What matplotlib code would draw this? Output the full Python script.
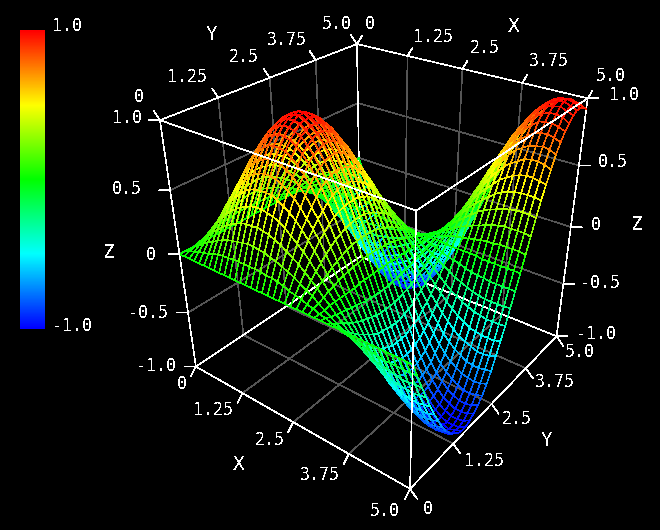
import numpy as np
import matplotlib
matplotlib.use("Agg")
import matplotlib.pyplot as plt
from matplotlib.colors import LinearSegmentedColormap
from mpl_toolkits.mplot3d import proj3d
from mpl_toolkits.mplot3d.art3d import Line3DCollection

plt.rcParams["font.family"] = "DejaVu Sans Mono"
plt.rcParams["font.size"] = 12
plt.rcParams["lines.antialiased"] = False
plt.rcParams["patch.antialiased"] = False
plt.rcParams["text.antialiased"] = False

x_ticks = [0, 1.25, 2.5, 3.75, 5.0]
y_ticks = [0, 1.25, 2.5, 3.75, 5.0]
z_ticks = [-1.0, -0.5, 0, 0.5, 1.0]
x_labels = ["0", "1.25", "2.5", "3.75", "5.0"]
y_labels = ["0", "1.25", "2.5", "3.75", "5.0"]
z_labels = ["-1.0", "-0.5", "0", "0.5", "1.0"]
grid_step = 0.125

z_hundredths = [
    [0] * 41,
    [0,2,3,5,6,7,9,10,11,11,12,12,12,12,12,12,11,11,10,9,7,6,5,3,2,0,-1,-3,-4,-6,-7,-8,-9,-10,-11,-12,-12,-12,-12,-12,-12],
    [0,3,6,9,12,14,17,19,21,22,23,24,25,25,24,24,22,21,19,17,15,12,9,7,3,0,-3,-6,-9,-11,-14,-17,-19,-21,-22,-23,-24,-25,-25,-24,-24],
    [0,5,9,13,18,21,25,28,31,33,35,36,36,37,36,35,33,31,28,25,22,18,14,10,5,1,-4,-8,-13,-17,-21,-25,-28,-30,-33,-35,-36,-36,-37,-36,-35],
    [0,6,12,18,23,28,33,37,40,43,45,47,48,48,47,46,44,41,37,33,29,24,18,13,7,1,-5,-11,-17,-22,-27,-32,-36,-40,-43,-45,-47,-48,-48,-47,-46],
    [0,7,14,21,28,34,40,45,49,53,56,57,58,58,58,56,53,50,46,41,35,29,22,15,8,1,-6,-14,-21,-27,-33,-39,-44,-49,-52,-55,-57,-58,-58,-58,-56],
    [0,9,17,25,33,40,47,52,57,62,65,67,68,68,67,65,62,58,53,47,41,34,26,18,10,1,-7,-16,-24,-32,-39,-46,-52,-57,-61,-64,-67,-68,-68,-67,-65],
    [0,10,19,28,37,45,52,59,65,69,73,75,77,77,76,73,70,65,60,53,46,38,29,20,11,1,-8,-18,-27,-36,-44,-51,-58,-64,-69,-72,-75,-76,-77,-76,-74],
    [0,11,21,31,40,49,57,65,71,76,80,83,84,84,83,80,76,71,65,58,50,42,32,22,12,1,-9,-19,-30,-39,-48,-56,-64,-70,-75,-79,-82,-84,-84,-83,-81],
    [0,11,22,33,43,53,62,69,76,81,86,88,90,90,89,86,82,77,70,63,54,45,34,24,13,2,-10,-21,-32,-42,-52,-60,-68,-75,-81,-85,-88,-90,-90,-89,-87],
    [0,12,23,35,45,56,65,73,80,86,90,93,95,95,93,91,86,81,74,66,57,47,36,25,13,2,-10,-22,-33,-44,-54,-64,-72,-79,-85,-89,-93,-95,-95,-94,-91],
    [0,12,24,36,47,57,67,75,83,88,93,96,98,98,97,94,89,83,76,68,59,48,37,26,14,2,-11,-23,-34,-46,-56,-66,-74,-82,-88,-93,-96,-98,-98,-97,-94],
    [0,12,25,36,48,58,68,77,84,90,95,98,99,100,98,95,91,85,78,69,60,49,38,26,14,2,-11,-23,-35,-46,-57,-67,-75,-83,-89,-94,-98,-99,-100,-98,-96],
    [0,12,25,37,48,58,68,77,84,90,95,98,100,100,98,95,91,85,78,69,60,49,38,26,14,2,-11,-23,-35,-46,-57,-67,-76,-83,-89,-94,-98,-100,-100,-99,-96],
    [0,12,24,36,47,58,67,76,83,89,93,97,98,98,97,94,89,84,77,68,59,49,38,26,14,2,-11,-23,-35,-46,-56,-66,-74,-82,-88,-93,-96,-98,-98,-97,-94],
    [0,12,24,35,46,56,65,73,80,86,91,94,95,95,94,91,87,81,74,66,57,47,36,25,13,2,-10,-22,-33,-44,-55,-64,-72,-79,-85,-90,-93,-95,-95,-94,-91],
    [0,11,22,33,44,53,62,70,76,82,86,89,91,91,89,87,83,77,71,63,54,45,35,24,13,2,-10,-21,-32,-42,-52,-61,-69,-76,-81,-86,-89,-91,-91,-90,-87],
    [0,11,21,31,41,50,58,65,71,77,81,83,85,85,84,81,77,72,66,59,51,42,32,22,12,1,-9,-20,-30,-40,-49,-57,-64,-71,-76,-80,-83,-85,-85,-84,-82],
    [0,10,19,28,37,46,53,60,65,70,74,76,78,78,77,74,71,66,61,54,47,38,30,21,11,1,-8,-18,-27,-36,-45,-52,-59,-65,-70,-73,-76,-77,-78,-77,-75],
    [0,9,17,25,33,41,47,53,58,63,66,68,69,69,68,66,63,59,54,48,42,34,27,18,10,1,-7,-16,-24,-32,-40,-46,-53,-58,-62,-65,-68,-69,-69,-68,-67],
    [0,7,15,22,29,35,41,46,50,54,57,59,60,60,59,57,54,51,47,42,36,30,23,16,8,1,-6,-14,-21,-28,-34,-40,-45,-50,-54,-56,-58,-60,-60,-59,-57],
    [0,6,12,18,24,29,34,38,42,45,47,48,49,49,49,47,45,42,38,34,30,24,19,13,7,1,-5,-11,-17,-23,-28,-33,-37,-41,-44,-47,-48,-49,-49,-49,-47],
    [0,5,9,14,18,22,26,29,32,34,36,37,38,38,38,36,35,32,30,27,23,19,15,10,5,1,-4,-9,-13,-18,-22,-26,-29,-32,-34,-36,-37,-38,-38,-38,-37],
    [0,3,7,10,13,15,18,20,22,24,25,26,26,26,26,25,24,22,21,18,16,13,10,7,4,0,-3,-6,-9,-12,-15,-18,-20,-22,-24,-25,-26,-26,-26,-26,-25],
    [0,2,3,5,7,8,10,11,12,13,13,14,14,14,14,13,13,12,11,10,8,7,5,4,2,0,-2,-3,-5,-7,-8,-9,-11,-12,-13,-13,-14,-14,-14,-14,-14],
    [0,0,0,1,1,1,1,1,1,2,2,2,2,2,2,2,2,1,1,1,1,1,1,0,0,0,0,0,-1,-1,-1,-1,-1,-1,-2,-2,-2,-2,-2,-2,-2],
    [0,-1,-3,-4,-5,-6,-7,-8,-9,-10,-10,-11,-11,-11,-11,-10,-10,-9,-8,-7,-6,-5,-4,-3,-2,0,1,2,4,5,6,7,8,9,10,10,11,11,11,11,10],
    [0,-3,-6,-8,-11,-14,-16,-18,-19,-21,-22,-23,-23,-23,-23,-22,-21,-20,-18,-16,-14,-11,-9,-6,-3,0,2,5,8,11,13,15,17,19,21,22,23,23,23,23,22],
    [0,-4,-9,-13,-17,-21,-24,-27,-30,-32,-33,-34,-35,-35,-35,-33,-32,-30,-27,-24,-21,-17,-13,-9,-5,-1,4,8,12,16,20,24,27,29,31,33,34,35,35,35,34],
    [0,-6,-11,-17,-22,-27,-32,-36,-39,-42,-44,-46,-46,-46,-46,-44,-42,-40,-36,-32,-28,-23,-18,-12,-7,-1,5,11,16,22,27,31,35,39,42,44,45,46,46,46,45],
    [0,-7,-14,-21,-27,-33,-39,-44,-48,-52,-54,-56,-57,-57,-56,-55,-52,-49,-45,-40,-34,-28,-22,-15,-8,-1,6,13,20,27,33,38,43,48,51,54,56,57,57,56,55],
    [0,-8,-17,-25,-32,-39,-46,-51,-56,-60,-64,-66,-67,-67,-66,-64,-61,-57,-52,-46,-40,-33,-26,-18,-9,-1,7,15,24,31,38,45,51,56,60,63,66,67,67,66,64],
    [0,-9,-19,-28,-36,-44,-52,-58,-64,-68,-72,-74,-75,-76,-74,-72,-69,-64,-59,-53,-45,-37,-29,-20,-11,-1,8,17,27,35,43,51,57,63,68,71,74,75,76,75,73],
    [0,-10,-21,-30,-40,-49,-57,-64,-70,-75,-79,-82,-83,-83,-82,-79,-76,-71,-65,-58,-50,-41,-32,-22,-12,-1,9,19,29,39,48,56,63,69,74,78,81,83,83,82,80],
    [0,-11,-22,-33,-43,-52,-61,-69,-75,-81,-85,-88,-89,-89,-88,-85,-81,-76,-70,-62,-54,-44,-34,-24,-13,-2,10,21,31,42,51,60,68,74,80,84,88,89,89,88,86],
    [0,-12,-23,-35,-45,-55,-64,-72,-79,-85,-89,-93,-94,-94,-93,-90,-86,-80,-73,-65,-56,-47,-36,-25,-13,-2,10,22,33,44,54,63,71,78,84,89,92,94,94,93,90],
    [0,-12,-24,-36,-47,-57,-67,-75,-82,-88,-93,-96,-98,-98,-96,-93,-89,-83,-76,-68,-58,-48,-37,-26,-14,-2,11,23,34,45,56,66,74,81,88,92,96,97,98,96,94],
    [0,-12,-25,-36,-48,-58,-68,-76,-84,-90,-95,-98,-99,-100,-98,-95,-91,-85,-77,-69,-60,-49,-38,-26,-14,-2,11,23,35,46,57,67,75,83,89,94,97,99,100,98,96],
    [0,-12,-25,-37,-48,-58,-68,-77,-84,-90,-95,-98,-100,-100,-98,-95,-91,-85,-78,-69,-60,-49,-38,-26,-14,-2,11,23,35,46,57,67,76,83,89,94,98,100,100,99,96],
    [0,-12,-24,-36,-47,-58,-67,-76,-83,-89,-94,-97,-98,-99,-97,-94,-90,-84,-77,-68,-59,-49,-38,-26,-14,-2,11,23,35,46,56,66,75,82,88,93,96,98,99,97,95],
    [0,-12,-24,-35,-46,-56,-65,-74,-81,-87,-91,-94,-96,-96,-94,-91,-87,-82,-75,-67,-57,-47,-37,-25,-14,-2,10,22,34,45,55,64,73,80,86,90,94,96,96,95,92],
]

W, H = 660, 530
LW = 0.42
MESH_LW = 0.34
rainbow = LinearSegmentedColormap.from_list(
    "rainbow5", ["#0000ff", "#00ffff", "#00ff00", "#ffff00", "#ff0000"], N=512)

fig = plt.figure(figsize=(W / 100, H / 100), dpi=100, facecolor="black")
ax = fig.add_axes([139.5 / W, 48.9 / H, 469 / W, 469 / H], projection="3d")
ax.set_facecolor("none")
ax.set_axis_off()
ax.computed_zorder = False
ax.view_init(30.47, -52.47, 0.14)
ax.set_proj_type("persp", focal_length=0.3282)
ax.set_box_aspect((1, 1, 1))
ax.set_xlim(0, 5, view_margin=0)
ax.set_ylim(0, 5, view_margin=0)
ax.set_zlim(-1, 1, view_margin=0)
proj = ax.get_proj()

x0, x1, y0, y1, z0, z1 = 0, 5, 0, 5, -1, 1


def line3(p, q, color="white", zorder=1.5):
    ax.plot([p[0], q[0]], [p[1], q[1]], [p[2], q[2]], color=color, lw=LW, zorder=zorder, clip_on=False)


# gray grid on floor and the two back walls
for v in x_ticks[1:-1]:
    line3((v, y0, z0), (v, y1, z0), "#555555", 1)
    line3((v, y1, z0), (v, y1, z1), "#555555", 1)
for v in y_ticks[1:-1]:
    line3((x0, v, z0), (x1, v, z0), "#555555", 1)
    line3((x0, v, z0), (x0, v, z1), "#555555", 1)
for v in z_ticks[1:-1]:
    line3((x0, y0, v), (x0, y1, v), "#555555", 1)
    line3((x0, y1, v), (x1, y1, v), "#555555", 1)

# box edges, the ones in front go over the mesh
line3((x0, y0, z0), (x1, y0, z0))
line3((x1, y0, z0), (x1, y1, z0))
line3((x0, y0, z0), (x0, y1, z0))
line3((x0, y1, z0), (x1, y1, z0))
line3((x0, y0, z0), (x0, y0, z1))
line3((x1, y1, z0), (x1, y1, z1))
line3((x0, y1, z0), (x0, y1, z1))
line3((x0, y0, z1), (x0, y1, z1))
line3((x0, y1, z1), (x1, y1, z1))
line3((x1, y0, z0), (x1, y0, z1), zorder=3)
line3((x0, y0, z1), (x1, y0, z1), zorder=3)
line3((x1, y0, z1), (x1, y1, z1), zorder=3)

# colored wire mesh
z_grid = np.array(z_hundredths) / 100
n_x, n_y = z_grid.shape
segs = []
vals = []
for i in range(n_x):
    for j in range(n_y):
        p = (i * grid_step, j * grid_step, z_grid[i, j])
        if i + 1 < n_x:
            segs.append([p, ((i + 1) * grid_step, j * grid_step, z_grid[i + 1, j])])
            vals.append((z_grid[i, j] + z_grid[i + 1, j]) / 2)
        if j + 1 < n_y:
            segs.append([p, (i * grid_step, (j + 1) * grid_step, z_grid[i, j + 1])])
            vals.append((z_grid[i, j] + z_grid[i, j + 1]) / 2)
colors = rainbow((np.array(vals) + 1) / 2)
mesh = Line3DCollection(segs, colors=colors, linewidths=MESH_LW, antialiaseds=False, zorder=2, clip_on=False)
ax.add_collection3d(mesh)


def tick(x, y, z, label, tdx, tdy, ldx, ldy):
    u, v, _ = proj3d.proj_transform(x, y, z, proj)
    ax.annotate("", xy=(u, v), xytext=(tdx, tdy), textcoords="offset pixels", annotation_clip=False,
                arrowprops=dict(arrowstyle="-", color="white", lw=LW, shrinkA=0, shrinkB=0))
    if label:
        ax.annotate(label, xy=(u, v), xytext=(ldx, ldy), textcoords="offset pixels", annotation_clip=False,
                    color="white", ha="center", va="center")


bottom_x = [(-14, -17), (-29, -17), (-23, -18), (-29, -21), (-25, -22)]
bottom_y = [(18, -20), (31, -17), (25, -15), (29, -14), (23, -16)]
top_x = [(13, 20), (26, 19), (22, 21), (27, 22), (23, 22)]
top_y = [(-21, 23), (-31, 21), (-26, 21), (-29, 20), (-20, 20)]
left_z = [(-40, 1), (-40, 0), (-29, -1), (-43, 1), (-33, 2)]
right_z = [(40, 2), (37, 1), (25, 2), (34, 3), (36, 3)]

for k in range(5):
    tick(x_ticks[k], y0, z0, x_labels[k], -5, -10, *bottom_x[k])
    tick(x1, y_ticks[k], z0, y_labels[k], 7, -10, *bottom_y[k])
    tick(x_ticks[k], y1, z1, x_labels[k], 5, 8, *top_x[k])
    tick(x0, y_ticks[k], z1, y_labels[k], -6, 9, *top_y[k])
    tick(x0, y0, z_ticks[k], z_labels[k], -11, 0, *left_z[k])
    tick(x1, y1, z_ticks[k], z_labels[k], 11, 0, *right_z[k])

for name, px, py in [("X", 239, 465), ("Y", 547, 441), ("Z", 109, 253),
                     ("Y", 212, 35), ("X", 514, 26), ("Z", 637, 225)]:
    fig.text(px / W, 1 - py / H, name, color="white", ha="center", va="center", fontsize=14)

# color legend
cax = fig.add_axes([20 / W, 1 - 329 / H, 25 / W, 299 / H])
cax.imshow(np.linspace(1, -1, 300).reshape(-1, 1), cmap=rainbow, vmin=-1, vmax=1, aspect="auto")
cax.set_axis_off()
fig.text(67 / W, 1 - 26 / H, "1.0", color="white", ha="center", va="center")
fig.text(72 / W, 1 - 326 / H, "-1.0", color="white", ha="center", va="center")

fig.savefig("out.png", facecolor="black")
